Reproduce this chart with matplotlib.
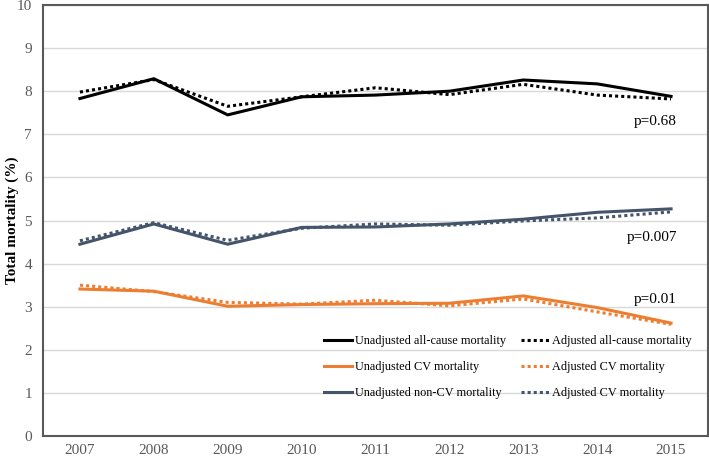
import matplotlib
matplotlib.use("Agg")
import matplotlib.pyplot as plt

anos = ['2007', '2008', '2009', '2010', '2011', '2012', '2013', '2014', '2015']

# all-cause
total_bruto = [7.83, 8.29, 7.45, 7.87, 7.91, 8.00, 8.26, 8.17, 7.88]
total_ajust = [7.98, 8.27, 7.65, 7.87, 8.08, 7.92, 8.16, 7.91, 7.82]
# CV
cv_bruto = [3.41, 3.36, 3.01, 3.05, 3.07, 3.08, 3.25, 2.98, 2.62]
cv_ajust = [3.50, 3.35, 3.10, 3.06, 3.15, 3.02, 3.18, 2.88, 2.59]
# non-CV
ncv_bruto = [4.45, 4.92, 4.45, 4.84, 4.85, 4.92, 5.03, 5.19, 5.27]
ncv_ajust = [4.53, 4.95, 4.54, 4.82, 4.92, 4.89, 4.99, 5.06, 5.20]

p_textos = ['p=0.68', 'p=0.007', 'p=0.01']
p_alturas = [7.3, 4.6, 3.16]

plt.rcParams['font.family'] = ['Liberation Serif', 'DejaVu Serif']

preto = '#000000'
laranja = '#ED7D31'
azul = '#44546A'

fig = plt.figure(figsize=(7.09, 4.59), dpi=100)
ax = fig.add_axes([43 / 709, 1 - 436 / 459, 665 / 709, 431 / 459])

x = list(range(len(anos)))
lw = 2.2
ax.plot(x, total_bruto, color=preto, lw=lw, label='Unadjusted all-cause mortality')
ax.plot(x, cv_bruto, color=laranja, lw=lw, label='Unadjusted CV mortality')
ax.plot(x, ncv_bruto, color=azul, lw=lw, label='Unadjusted non-CV mortality')
ax.plot(x, total_ajust, color=preto, lw=lw, ls=(0, (1, 1)), label='Adjusted all-cause mortality')
ax.plot(x, cv_ajust, color=laranja, lw=lw, ls=(0, (1, 1)), label='Adjusted CV mortality')
ax.plot(x, ncv_ajust, color=azul, lw=lw, ls=(0, (1, 1)), label='Adjusted CV mortality')

for txt, h in zip(p_textos, p_alturas):
    ax.text(8.08, h, txt, ha='right', va='center', fontsize=11)

ax.set_xlim(-0.5, 8.5)
ax.set_ylim(0, 10)
ax.set_yticks(range(0, 11))
ax.set_xticks(x)
ax.set_xticklabels(anos)
ax.tick_params(length=0, labelsize=11, labelcolor='#595959')
ax.tick_params(axis='y', pad=8)
ax.tick_params(axis='x', pad=6)
ax.grid(axis='y', color='#D9D9D9', lw=1)
ax.set_axisbelow(True)
for s in ax.spines.values():
    s.set_color('#595959')
    s.set_linewidth(1.5)

fig.text(12 / 709, 1 - 220 / 459, 'Total mortality (%)', rotation=90, ha='center', va='center',
         fontsize=11, fontweight='bold')

ax.legend(ncol=2, loc='lower right', bbox_to_anchor=(0.975, 0.086), frameon=False,
          fontsize=8.8, handlelength=2.3, handletextpad=0.25, labelspacing=1.15,
          columnspacing=1.2, borderpad=0, borderaxespad=0)

fig.savefig('out.png', dpi=100)
